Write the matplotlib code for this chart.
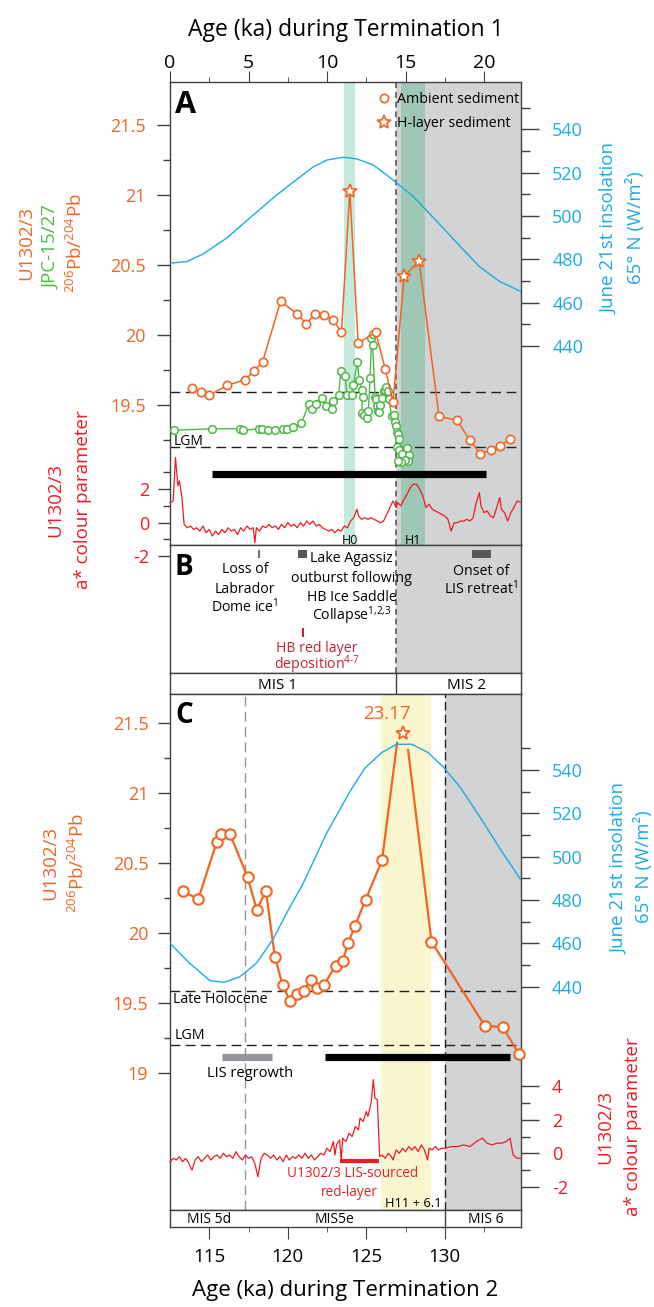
import matplotlib.pyplot as plt
from matplotlib.lines import Line2D
import numpy as np

plt.rcParams['font.family'] = ['Open Sans', 'DejaVu Sans']
plt.rcParams['mathtext.fontset'] = 'custom'
plt.rcParams['mathtext.rm'] = 'Open Sans'
plt.rcParams['mathtext.it'] = 'Open Sans:italic'
plt.rcParams['mathtext.bf'] = 'Open Sans:bold'

ORANGE = '#f26522'
GREEN = '#4db848'
BLUE = '#1cabe2'
RED = '#ed1c24'
CRIMSON = '#c5203a'
GRAY = '#d1d3d4'
H0_GREEN = '#c3eadb'
H1_GREEN = '#9ec8b5'
YELLOW = '#f9f6cf'
BAR_GRAY = '#939598'
DARK_GRAY = '#58595b'
SPINE = '#414042'

# ---------------- Termination 1 (panels A, B) ----------------
ins_t1_age = [0.0, 1.08, 2.1, 3.6, 5.3, 6.8, 8.1, 9.1, 10.0, 11.04, 11.9, 12.95,
              14.2, 15.5, 17.0, 18.5, 19.7, 21.0, 22.35]
ins_t1 = [478.2, 478.9, 482.4, 489.7, 500.4, 509.7, 517.0, 522.5, 525.8, 527.1, 526.3,
          523.5, 516.6, 508.9, 497.4, 485.8, 476.6, 469.7, 465.1]

u1302_t1_age = [1.38, 1.95, 2.50, 3.64, 4.77, 5.34, 5.90, 7.04, 8.10, 8.69, 9.22, 9.80,
                10.35, 10.92, 11.98, 13.10, 13.70, 14.20, 17.13, 18.28, 19.08, 19.76,
                20.42, 21.03, 21.67]
u1302_t1_pb = [19.62, 19.59, 19.57, 19.64, 19.68, 19.74, 19.81, 20.24, 20.15, 20.08,
               20.15, 20.14, 20.11, 20.02, 19.94, 20.02, 19.76, 19.52, 19.42, 19.39,
               19.25, 19.15, 19.18, 19.21, 19.26]
hlayer_t1_age = [11.45, 14.91, 15.86]
hlayer_t1_pb = [21.03, 20.42, 20.53]

jpc_age = [0.27, 2.67, 4.43, 4.68, 5.64, 5.85, 6.27, 6.70, 7.19, 7.44, 7.86, 8.37,
           8.84, 9.03, 9.31, 9.71, 9.94, 10.31, 10.41, 10.73, 10.88, 11.15, 11.26,
           11.58, 11.68, 11.93, 12.04, 12.21, 12.26, 12.21, 12.36, 12.53, 12.63,
           12.74, 12.83, 12.95, 12.90, 13.06, 13.10, 13.15, 13.22, 13.30, 13.38,
           13.50, 13.62, 13.70, 13.78, 13.85, 13.95, 14.11, 14.28, 14.32, 14.42,
           14.46, 14.53, 14.59, 14.46, 14.59, 15.06, 14.78, 15.23, 15.17, 14.95,
           14.74, 14.53]
jpc_pb = [19.32, 19.33, 19.33, 19.32, 19.33, 19.33, 19.32, 19.32, 19.33, 19.33, 19.34,
          19.37, 19.51, 19.47, 19.51, 19.55, 19.49, 19.47, 19.53, 19.57, 19.74, 19.71,
          19.57, 19.57, 19.64, 19.81, 19.68, 19.61, 19.56, 19.44, 19.43, 19.41, 19.46,
          19.69, 19.98, 20.01, 19.93, 19.56, 19.54, 19.49, 19.46, 19.45, 19.50, 19.55,
          19.60, 19.61, 19.63, 19.60, 19.54, 19.42, 19.43, 19.38, 19.35, 19.31, 19.29,
          19.26, 19.20, 19.18, 19.19, 19.15, 19.14, 19.10, 19.11, 19.09, 19.10]

astar_t1 = [(0.0, 1.2), (0.2, 1.3), (0.35, 3.9), (0.5, 2.2), (0.6, 2.5), (0.75, 1.6),
            (0.9, -0.1), (1.1, -0.3), (1.3, -0.2), (1.5, -0.4), (1.7, -0.3), (1.9, -0.5),
            (2.1, -0.2), (2.3, -0.6), (2.5, -0.4), (2.7, -0.8), (2.9, -0.5), (3.1, -0.7),
            (3.3, -0.4), (3.5, -0.6), (3.7, -0.3), (3.9, -0.5), (4.1, -0.4), (4.3, -0.7),
            (4.5, -0.3), (4.7, -0.5), (4.9, -0.2), (5.1, -0.4), (5.3, -0.3), (5.4, -1.2),
            (5.5, -0.3), (5.7, -0.5), (5.9, -0.2), (6.1, -0.3), (6.3, -0.1), (6.5, -0.3),
            (6.7, -0.2), (6.9, -0.4), (7.1, -0.1), (7.3, -0.3), (7.5, 0.0), (7.7, -0.2),
            (7.9, -0.1), (8.1, -0.3), (8.3, 0.0), (8.5, -0.2), (8.7, 0.1), (8.9, -0.1),
            (9.1, 0.1), (9.3, -0.2), (9.5, -0.1), (9.7, -0.3), (9.9, -0.4), (10.1, -0.5),
            (10.3, -0.4), (10.5, -0.6), (10.7, -0.4), (10.9, -0.5), (11.1, -0.2),
            (11.3, -0.3), (11.5, 0.1), (11.7, 0.3), (11.9, 0.8), (12.0, 0.4), (12.2, 0.2),
            (12.4, 0.3), (12.6, 0.2), (12.8, 0.3), (13.0, 0.2), (13.2, 0.1), (13.4, 0.0),
            (13.6, 0.1), (13.8, 0.5), (14.0, 0.9), (14.2, 1.3), (14.4, 0.9), (14.5, 1.2),
            (14.7, 1.0), (14.9, 1.4), (15.1, 1.7), (15.3, 2.1), (15.5, 2.3), (15.7, 2.3),
            (15.9, 2.0), (16.1, 1.6), (16.3, 0.9), (16.5, 1.1), (16.7, 0.8), (16.9, 0.7),
            (17.1, 0.6), (17.3, 0.5), (17.5, 0.4), (17.7, 0.2), (17.9, -0.5), (18.1, 0.0),
            (18.3, 0.0), (18.5, 0.1), (18.7, 0.1), (18.9, 0.2), (19.1, 0.1), (19.3, 0.3),
            (19.5, 1.2), (19.7, 1.8), (19.8, 1.0), (20.0, 0.6), (20.2, 0.7), (20.4, 0.4),
            (20.6, 0.3), (20.8, 0.9), (21.0, 1.5), (21.1, 0.8), (21.3, 0.6), (21.5, 0.1),
            (21.7, 0.6), (21.9, 0.9), (22.1, 1.3), (22.35, 1.2)]

holocene_pb = 19.59
lgm_pb = 19.2
t1_boundary = 14.4
h0_band = (11.09, 11.79)
h1_band = (14.69, 16.24)
lgm_bar_t1 = (2.69, 20.13)
labrador_age = 5.66
agassiz_span = (8.16, 8.75)
hb_red_age = 8.47
lis_onset_span = (19.22, 20.41)

# ---------------- Termination 2 (panel C) ----------------
ins_t2_age = [112.5, 113.77, 115.04, 115.95, 116.95, 118.0, 119.07, 119.92, 120.98,
              122.47, 123.95, 124.90, 125.97, 126.92, 127.89, 128.93, 129.89, 130.95,
              132.22, 133.49, 134.85]
ins_t2 = [460.0, 450.7, 442.8, 442.0, 444.6, 450.8, 462.0, 473.9, 487.7, 510.8, 530.0,
          540.8, 548.0, 551.9, 551.9, 548.1, 541.5, 532.3, 518.5, 503.9, 489.2]

u1302_t2_age = [113.31, 114.30, 115.47, 115.74, 116.32, 117.44, 118.02, 118.61, 119.18,
                119.67, 120.13, 120.56, 121.03, 121.45, 121.83, 122.30, 123.04, 123.49,
                123.84, 124.27, 124.95, 126.0, 129.15, 132.54, 133.70, 134.70]
u1302_t2_pb = [20.30, 20.245, 20.65, 20.71, 20.71, 20.40, 20.17, 20.30, 19.83, 19.63,
               19.52, 19.57, 19.59, 19.67, 19.61, 19.63, 19.77, 19.80, 19.93, 20.05,
               20.24, 20.52, 19.94, 19.34, 19.33, 19.14]
# H11 sample is off scale (23.17): lines leave the axis, star is drawn at the top
h11_age = 127.33
h11_value = 23.17
h11_drawn_pb = 21.43
h11_exit_age = [126.96, 127.66]
h11_exit_pb = [21.36, 21.31]

astar_t2 = [(112.5, -0.5), (112.7, -0.3), (112.9, -0.4), (113.1, -0.2), (113.3, -0.5),
            (113.5, -0.3), (113.7, -0.6), (113.9, -1.0), (114.1, -0.4), (114.3, -0.2),
            (114.5, -0.5), (114.7, -0.3), (114.9, -0.1), (115.1, -0.4), (115.3, -0.2),
            (115.5, -0.1), (115.7, -0.3), (115.9, 0.0), (116.1, -0.2), (116.3, -0.1),
            (116.5, -0.3), (116.7, 0.1), (116.9, -0.2), (117.1, -0.4), (117.3, -0.1),
            (117.5, -0.3), (117.7, -0.2), (117.9, -0.6), (118.1, -1.4), (118.3, -0.3),
            (118.5, 0.0), (118.7, -0.1), (118.9, -0.3), (119.1, -0.1), (119.3, -0.4),
            (119.5, -0.2), (119.7, -0.5), (119.9, -0.1), (120.1, -0.4), (120.3, -0.2),
            (120.5, -0.3), (120.7, -0.1), (120.9, -0.3), (121.1, 0.0), (121.3, -0.3),
            (121.5, -0.1), (121.7, -0.4), (121.9, -0.2), (122.1, 0.0), (122.3, -0.1),
            (122.5, 0.3), (122.7, 0.1), (122.9, 0.7), (123.0, -0.1), (123.1, 0.5),
            (123.3, 0.8), (123.4, -0.4), (123.5, 0.9), (123.7, 0.7), (123.9, 1.2),
            (124.1, 1.0), (124.3, 1.6), (124.5, 1.4), (124.6, 2.1), (124.8, 1.9),
            (125.0, 2.5), (125.1, 2.2), (125.3, 3.0), (125.45, 4.4), (125.55, 3.3),
            (125.7, 3.2), (125.85, -0.2), (126.0, -0.1), (126.2, -0.3), (126.4, 0.0),
            (126.6, -0.2), (126.7, -0.4), (126.9, 0.2), (127.1, 0.0), (127.3, 0.3),
            (127.5, 0.1), (127.7, 0.4), (127.9, 0.2), (128.1, 0.4), (128.3, 0.1),
            (128.5, 0.5), (128.7, 0.2), (128.9, -0.4), (129.0, 0.3), (129.2, 0.2),
            (129.4, 0.4), (129.6, 0.2), (129.8, 0.3), (130.0, 0.3), (130.4, 0.4),
            (130.8, 0.4), (131.2, 0.5), (131.6, 0.4), (132.0, 0.7), (132.4, 0.9),
            (132.7, 0.6), (133.0, 0.5), (133.3, 0.6), (133.6, 0.6), (133.9, 0.7),
            (134.15, 0.9), (134.35, -0.1), (134.6, -0.3), (134.8, -0.3)]

t2_boundary = 130.0
mis5d_boundary = 117.3
h11_band = (125.92, 129.15)
lis_regrowth = (115.82, 118.97)
lgm_bar_t2 = (122.35, 134.18)
red_layer_span = (123.31, 125.79)

# ---------------- figure ----------------
W, H = 654, 1307
fig = plt.figure(figsize=(W / 100, H / 100), dpi=100)


def add_px_axes(x0, y0, x1, y1):
    return fig.add_axes([x0 / W, 1 - y1 / H, (x1 - x0) / W, (y1 - y0) / H])


def fig_text(x, y, s, **kw):
    fig.text(x / W, 1 - y / H, s, **kw)


def box(ax):
    for sp in ax.spines.values():
        sp.set_color(SPINE)
        sp.set_linewidth(1)


def bare(ax):
    ax.patch.set_visible(False)
    for sp in ax.spines.values():
        sp.set_visible(False)
    ax.set_xticks([])


def yticks(ax, major, labels, minor, color, maj_len, min_len, pad):
    ax.set_yticks(major, labels=labels)
    ax.set_yticks(minor, minor=True)
    ax.tick_params(axis='y', which='both', direction='out', color=SPINE, width=1,
                   labelcolor=color, labelsize=13, pad=pad)
    ax.tick_params(axis='y', which='major', length=maj_len)
    ax.tick_params(axis='y', which='minor', length=min_len)


T1 = (0.0, 22.35)
T2 = (112.5, 134.85)
open_o = dict(marker='o', mfc='white')

# ---- panel A ----
axA = add_px_axes(170, 82, 521, 545)
axAi = axA.twinx()
axA.set_xlim(*T1)
axA.set_ylim(18.5, 21.807)
box(axA)
axA.axvspan(t1_boundary, T1[1], color=GRAY, lw=0, zorder=0)
axA.axvspan(*h0_band, color=H0_GREEN, lw=0, zorder=0.5)
axA.axvspan(*h1_band, color=H1_GREEN, lw=0, zorder=0.5)
axA.axvline(t1_boundary, color='#6d6e71', lw=1.4, ls=(0, (3, 2)), zorder=1)
for v in (holocene_pb, lgm_pb):
    axA.axhline(v, color='#231f20', lw=1, ls=(0, (7, 4)), zorder=1)
axA.hlines(19.005, *lgm_bar_t1, color='black', lw=5.2, zorder=2)

all_age = np.concatenate([u1302_t1_age, hlayer_t1_age])
all_pb = np.concatenate([u1302_t1_pb, hlayer_t1_pb])
order = np.argsort(all_age)
axA.plot(jpc_age, jpc_pb, color=GREEN, lw=1, ms=5.5, mec=GREEN, mew=1.1, zorder=3, **open_o)
axA.plot(all_age[order], all_pb[order], color=ORANGE, lw=1.1, zorder=4)
axA.plot(u1302_t1_age, u1302_t1_pb, ls='none', ms=6, mec=ORANGE, mew=1.2, zorder=5, **open_o)
axA.plot(hlayer_t1_age, hlayer_t1_pb, ls='none', marker='*', ms=10, mfc='white', mec=ORANGE,
         mew=1.2, zorder=5)

axA.text(0.014, 0.933, 'A', transform=axA.transAxes, fontsize=22, fontweight='bold', va='baseline')
axA.text(0.2, 19.214, 'LGM', fontsize=10, va='baseline')
axA.text(sum(h0_band) / 2, 18.507, 'H0', fontsize=9, ha='center', va='baseline')
axA.text(sum(h1_band) / 2, 18.507, 'H1', fontsize=9, ha='center', va='baseline')

handles = [Line2D([], [], ls='none', ms=6, mec=ORANGE, mew=1.2, **open_o),
           Line2D([], [], ls='none', marker='*', ms=10, mfc='white', mec=ORANGE, mew=1.2)]
axA.legend(handles, ['Ambient sediment', 'H-layer sediment'], loc='upper left',
           bbox_to_anchor=(0.59, 0.979), frameon=False, fontsize=10.3, handlelength=0.95,
           handletextpad=0.45, labelspacing=0.62, borderpad=0, borderaxespad=0)

axA.xaxis.tick_top()
axA.xaxis.set_label_position('top')
axA.set_xticks([0, 5, 10, 15, 20])
axA.set_xticks([2.5, 7.5, 12.5, 17.5], minor=True)
axA.tick_params(axis='x', which='both', direction='out', color=SPINE, labelsize=14, pad=-0.5)
axA.tick_params(axis='x', which='major', length=7.7)
axA.tick_params(axis='x', which='minor', length=3.6)
axA.set_xlabel('Age (ka) during Termination 1', fontsize=16.5, labelpad=13)
yticks(axA, [19.5, 20, 20.5, 21, 21.5], ['19.5', '20', '20.5', '21', '21.5'],
       [19.25, 19.75, 20.25, 20.75, 21.25], ORANGE, 9.4, 5, 8)

axAi.set_ylim(348.1, 561.8)
for sp in axAi.spines.values():
    sp.set_visible(False)
axAi.plot(ins_t1_age, ins_t1, color=BLUE, lw=1)
yticks(axAi, list(range(440, 541, 20)), [str(v) for v in range(440, 541, 20)],
       list(range(450, 551, 20)), BLUE, 13, 6.5, 9.5)

axAr = add_px_axes(170, 465, 521, 560)
bare(axAr)
axAr.set_xlim(*T1)
axAr.set_ylim(-2.227, 3.445)
red_age, red_val = zip(*astar_t1)
axAr.plot(red_age, red_val, color=RED, lw=0.9, clip_on=False)
yticks(axAr, [-2, 0, 2], ['-2', '0', '2'], [-1, 1, 3], RED, 8.4, 4.8, 6.5)

# ---- panel B ----
axB = add_px_axes(170, 545, 521, 673)
box(axB)
axB.set_xlim(*T1)
axB.set_ylim(128, 0)
axB.set_xticks([])
axB.set_yticks([])
axB.axvspan(t1_boundary, T1[1], color=GRAY, lw=0, zorder=0)
axB.axvline(t1_boundary, color='#6d6e71', lw=1.4, ls=(0, (3, 2)), zorder=1)
axB.vlines(labrador_age, 5, 13.3, color='#6d6e71', lw=1.5)
axB.vlines(hb_red_age, 83.3, 92.3, color=CRIMSON, lw=1.5)
for span in (agassiz_span, lis_onset_span):
    axB.fill_between(span, 5, 13.3, color=DARK_GRAY, lw=0)


def stacked(ax, x, baselines, lines, **kw):
    for y, s in zip(baselines, lines):
        ax.text(x, y, s, ha='center', va='baseline', fontsize=10.2, **kw)


axB.text(0.014, 30, 'B', fontsize=20, fontweight='bold', va='baseline',
         transform=axB.get_yaxis_transform().__class__(axB.transAxes, axB.transData))
stacked(axB, 4.77, [28.3, 47.7, 66.7], ['Loss of', 'Labrador', 'Dome ice$^{1}$'])
stacked(axB, 11.55, [16.7, 36.7, 56, 75],
        ['Lake Agassiz', 'outburst following', 'HB Ice Saddle', 'Collapse$^{1{,}2{,}3}$'])
stacked(axB, 9.33, [106.7, 124.3], ['HB red layer', 'deposition$^{4\u20107}$'], color=CRIMSON)
stacked(axB, 19.81, [30, 49.3], ['Onset of', 'LIS retreat$^{1}$'])

axMb = add_px_axes(170, 673, 521, 694)
box(axMb)
axMb.set_xlim(*T1)
axMb.set_ylim(21, 0)
axMb.set_xticks([])
axMb.set_yticks([])
axMb.axvline(t1_boundary, color=SPINE, lw=1)
axMb.text(6.88, 16.3, 'MIS 1', ha='center', va='baseline', fontsize=11)
axMb.text(18.86, 16.3, 'MIS 2', ha='center', va='baseline', fontsize=11)

# ---- panel C ----
axC = add_px_axes(170, 694, 521, 1210)
axCi = axC.twinx()
axC.set_xlim(*T2)
axC.set_ylim(18.024, 21.709)
box(axC)
axC.set_xticks([])
axC.axvspan(t2_boundary, T2[1], color=GRAY, lw=0, zorder=0)
axC.axvspan(*h11_band, color=YELLOW, lw=0, zorder=0.5)
axC.axvline(t2_boundary, color='#231f20', lw=1, ls=(0, (6, 3)), zorder=1)
axC.axvline(mis5d_boundary, color=BAR_GRAY, lw=1, ls=(0, (7, 4)), zorder=1)
for v in (holocene_pb, lgm_pb):
    axC.axhline(v, color='#231f20', lw=1, ls=(0, (7, 4)), zorder=1)
axC.hlines(19.12, *lis_regrowth, color=BAR_GRAY, lw=5.2, zorder=2)
axC.hlines(19.12, *lgm_bar_t2, color='black', lw=5.2, zorder=2)

n_left = int(np.searchsorted(u1302_t2_age, h11_age))
axC.plot(list(u1302_t2_age[:n_left]) + h11_exit_age[:1], list(u1302_t2_pb[:n_left]) + h11_exit_pb[:1],
         color=ORANGE, lw=1.6, zorder=4)
axC.plot(h11_exit_age[1:] + list(u1302_t2_age[n_left:]), h11_exit_pb[1:] + list(u1302_t2_pb[n_left:]),
         color=ORANGE, lw=1.6, zorder=4, clip_on=False)
axC.plot(u1302_t2_age, u1302_t2_pb, ls='none', ms=7.5, mec=ORANGE, mew=1.5, zorder=5,
         clip_on=False, **open_o)
axC.plot([h11_age], [h11_drawn_pb], ls='none', marker='*', ms=10, mfc='white', mec=ORANGE,
         mew=1.3, zorder=5)
axC.text(126.31, 21.529, f'{h11_value:.2f}', color=ORANGE, fontsize=13.5, ha='center', va='baseline')

axC.text(0.014, 0.943, 'C', transform=axC.transAxes, fontsize=20, fontweight='bold', va='baseline')
axC.text(112.69, 19.504, 'Late Holocene', fontsize=10.3, va='baseline')
axC.text(112.82, 19.243, 'LGM', fontsize=10.3, va='baseline')
axC.text(117.6, 18.976, 'LIS regrowth', fontsize=10.5, ha='center', va='baseline')
axC.text(128.0, 18.047, 'H11 + 6.1', fontsize=9.3, ha='center', va='baseline')
yticks(axC, [19, 19.5, 20, 20.5, 21, 21.5], ['19', '19.5', '20', '20.5', '21', '21.5'],
       [19.25, 19.75, 20.25, 20.75, 21.25], ORANGE, 8.6, 4.3, 7)

axCi.set_ylim(336.9, 575.1)
for sp in axCi.spines.values():
    sp.set_visible(False)
axCi.plot(ins_t2_age, ins_t2, color=BLUE, lw=1)
yticks(axCi, list(range(440, 541, 20)), [str(v) for v in range(440, 541, 20)],
       list(range(450, 551, 20)), BLUE, 13, 6.5, 9.2)

axCr = add_px_axes(170, 1075, 521, 1200)
bare(axCr)
axCr.set_xlim(*T2)
axCr.set_ylim(-2.788, 4.675)
axCr.yaxis.tick_right()
red_age, red_val = zip(*astar_t2)
axCr.plot(red_age, red_val, color=RED, lw=0.9, clip_on=False)
axCr.hlines(-0.44, *red_layer_span, color=RED, lw=3)
axCr.text(124.15, -1.40, 'U1302/3 LIS-sourced', color=RED, fontsize=9.8, ha='center', va='baseline')
axCr.text(123.94, -2.55, 'red-layer', color=RED, fontsize=9.8, ha='center', va='baseline')
yticks(axCr, [-2, 0, 2, 4], ['-2', '0', '2', '4'], [-1, 1, 3], RED, 13, 6.5, 9.2)

axMc = add_px_axes(170, 1210, 521, 1227)
box(axMc)
axMc.set_xlim(*T2)
axMc.set_ylim(17, 0)
axMc.set_yticks([])
axMc.axvline(t2_boundary, color=SPINE, lw=1)
axMc.text(115.0, 13.3, 'MIS 5d', ha='center', va='baseline', fontsize=10)
axMc.text(123.0, 13.3, 'MIS5e', ha='center', va='baseline', fontsize=10)
axMc.text(132.6, 13.3, 'MIS 6', ha='center', va='baseline', fontsize=10)
axMc.set_xticks([115, 120, 125, 130])
axMc.set_xticks([117.5, 122.5, 127.5, 132.5], minor=True)
axMc.tick_params(axis='x', which='both', direction='out', color=SPINE, labelsize=13.5, pad=7)
axMc.tick_params(axis='x', which='major', length=8.4)
axMc.tick_params(axis='x', which='minor', length=3.6)
axMc.set_xlabel('Age (ka) during Termination 2', fontsize=16, labelpad=10)

# ---- axis titles ----
rot = dict(rotation=90, ha='center', va='center', fontsize=13.5)
fig_text(26, 243, 'U1302/3', color=ORANGE, **rot)
fig_text(51, 247, 'JPC-15/27', color=GREEN, **rot)
fig_text(76, 243, '$^{206}$Pb/$^{204}$Pb', color=ORANGE, **rot)
fig_text(55, 500, 'U1302/3', color=RED, **rot)
fig_text(83, 500, 'a* colour parameter', color=RED, **rot)
fig_text(609, 229, 'June 21st insolation', color=BLUE, **rot)
fig_text(635, 228, '65° N (W/m²)', color=BLUE, **rot)
fig_text(50, 863, 'U1302/3', color=ORANGE, **rot)
fig_text(78, 863, '$^{206}$Pb/$^{204}$Pb', color=ORANGE, **rot)
fig_text(619, 868, 'June 21st insolation', color=BLUE, **rot)
fig_text(644, 867, '65° N (W/m²)', color=BLUE, **rot)
fig_text(605, 1127, 'U1302/3', color=RED, **rot)
fig_text(633, 1127, 'a* colour parameter', color=RED, **rot)

fig.savefig('out.png', dpi=100)
